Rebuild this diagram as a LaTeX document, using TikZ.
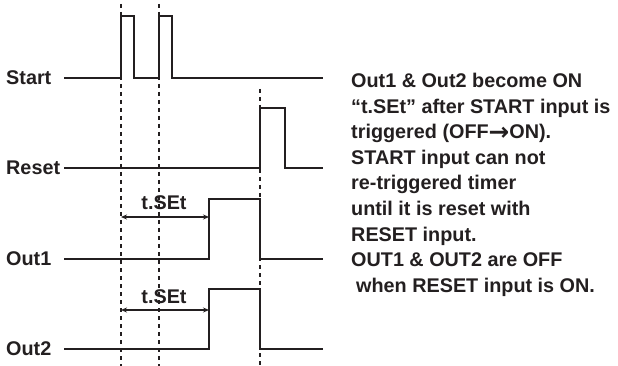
\documentclass[tikz,border=0pt]{standalone}
\usepackage{fontspec}
\setmainfont{Liberation Sans}
\newfontfamily\arrowfont{DejaVu Sans}[Scale=1.25]
\usepackage{xcolor}
\definecolor{cInk}{HTML}{231F20}
\usetikzlibrary{arrows.meta}
\tikzset{
  wave/.style={draw=cInk,line width=1.8pt,line join=miter},
  guide/.style={draw=cInk,line width=2pt,dash pattern=on 4pt off 4pt},
  arrow-time/.style={{Stealth[length=6pt,width=5pt]}-{Stealth[length=6pt,width=5pt]},
    draw=cInk,line width=1.3pt},
  label-sig/.style={anchor=west,inner sep=0pt,text=cInk,
    font=\fontsize{19.8}{22}\selectfont\bfseries},
  label-time/.style={anchor=base,inner sep=0pt,text=cInk,
    font=\fontsize{19.8}{22}\selectfont\bfseries},
  note-text/.style={anchor=north west,inner sep=0pt,align=left,text=cInk,
    font=\fontsize{19.8}{25.6}\selectfont\bfseries},
}
\begin{document}
\begin{tikzpicture}[x=1pt,y=-1pt]
  \useasboundingbox (0,0) rectangle (618,366);
  % signal names
  \node[label-sig] (lbl-start) at (6,78)  {Start};
  \node[label-sig] (lbl-reset) at (6,168) {Reset};
  \node[label-sig] (lbl-out1)  at (6,259) {Out1};
  \node[label-sig] (lbl-out2)  at (6,349) {Out2};
  % guide lines
  \draw[guide] (121,4) -- (121,366);
  \draw[guide] (159,4) -- (159,366);
  \draw[guide] (260,89) -- (260,366);
  % waveforms
  \draw[wave] (64,78) -- (121,78) -- (121,16) -- (134,16) -- (134,78) -- (159,78)
    -- (159,16) -- (172,16) -- (172,78) -- (323,78);
  \draw[wave] (64,168) -- (260,168) -- (260,108) -- (285,108) -- (285,168) -- (323,168);
  \draw[wave] (64,259) -- (209,259) -- (209,199) -- (260,199) -- (260,259) -- (323,259);
  \draw[wave] (64,349) -- (209,349) -- (209,289) -- (260,289) -- (260,349) -- (323,349);
  % t.SEt delays
  \coordinate (tset1-a) at (121,217);
  \coordinate (tset1-b) at (209,217);
  \coordinate (tset2-a) at (121,310);
  \coordinate (tset2-b) at (209,310);
  \draw[arrow-time] (tset1-a) -- (tset1-b);
  \draw[arrow-time] (tset2-a) -- (tset2-b);
  \node[label-time] (tset1) at (164,210) {t.SEt};
  \node[label-time] (tset2) at (164,303) {t.SEt};
  % notes
  \node[note-text] (note) at (351,73) {Out1 \& Out2 become ON\\
    “t.SEt” after START input is\\
    triggered (OFF\raisebox{-1.5pt}{\arrowfont\bfseries →}ON).\\
    START input can not\\
    re-triggered timer\\
    until it is reset with\\
    RESET input.\\
    OUT1 \& OUT2 are OFF\\
    \hspace*{5pt}when RESET input is ON.};
\end{tikzpicture}
\end{document}
